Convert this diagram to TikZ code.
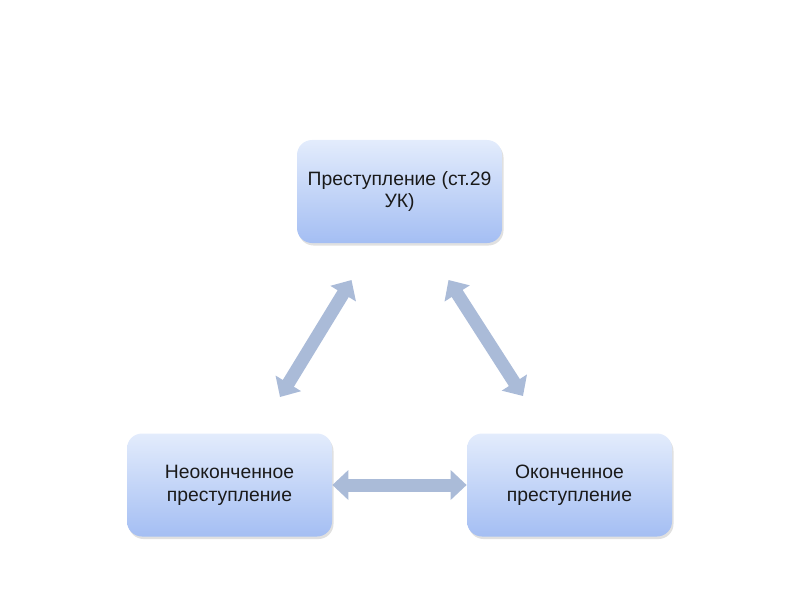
\documentclass[tikz,border=0pt]{standalone}
\usepackage{fontspec}
\setmainfont{Liberation Sans}
\usepackage{xcolor}
\usepackage{tikz}
\usetikzlibrary{arrows.meta,calc,shadows}
\definecolor{boxtop}{HTML}{E3ECFC}
\definecolor{boxbottom}{HTML}{A4BEF3}
\definecolor{arrowblue}{HTML}{AABBD8}
\definecolor{textdark}{HTML}{1A1A1A}
\tikzset{
  crimebox/.style={rounded corners=0.3cm,minimum width=4.1cm,minimum height=2.06cm,
    top color=boxtop,bottom color=boxbottom,align=center,text=textdark,
    font=\fontsize{11pt}{13pt}\selectfont,
    drop shadow={shadow xshift=0.03cm,shadow yshift=-0.05cm,opacity=0.12,fill=black}},
  linkarrow/.style={{Triangle[width=0.58cm,length=0.32cm]}-{Triangle[width=0.58cm,length=0.32cm]},
    line width=0.26cm,arrowblue}
}
\begin{document}
\begin{tikzpicture}
  \useasboundingbox (0,0) rectangle (16,12);
  \coordinate (P) at (7.99,8.17);
  \coordinate (N) at (4.59,2.3);
  \coordinate (O) at (11.39,2.3);
  \node[crimebox] (crime) at (P) {Преступление (ст.29\\УК)};
  \node[crimebox] (unfinished) at (N) {Неоконченное\\преступление};
  \node[crimebox] (finished) at (O) {Оконченное\\преступление};
  % free ends of the slanted arrows
  \coordinate (cl) at (7.03,6.4);
  \coordinate (ul) at (5.6,4.06);
  \coordinate (cr) at (8.97,6.4);
  \coordinate (fr) at (10.46,4.08);
  \draw[linkarrow] (cl) -- (ul);
  \draw[linkarrow] (cr) -- (fr);
  \draw[linkarrow] (unfinished.east) -- (finished.west);
\end{tikzpicture}
\end{document}
